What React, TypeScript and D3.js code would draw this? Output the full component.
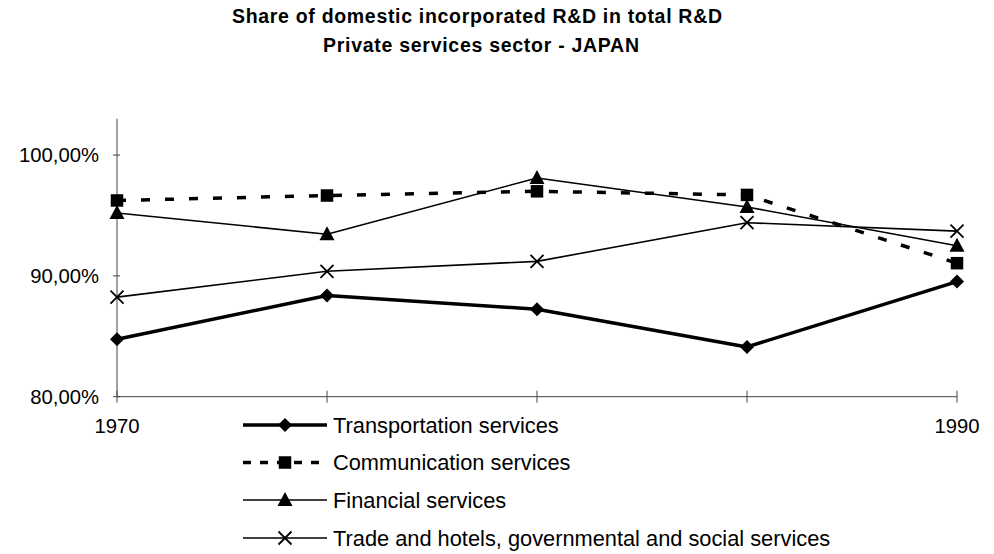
import React from "react";
import * as d3 from "d3";

const years = ["1970", "1975", "1980", "1985", "1990"];
const transportation = [84.76, 88.37, 87.24, 84.12, 89.53];
const communication = [96.24, 96.65, 97.0, 96.7, 91.05];
const financial = [95.2, 93.45, 98.1, 95.7, 92.5];
const tradeHotels = [88.24, 90.38, 91.2, 94.4, 93.7];
const yTicks = [80, 90, 100];
const xLabels = ["1970", "", "", "", "1990"];
const seriesNames = [
  "Transportation services",
  "Communication services",
  "Financial services",
  "Trade and hotels, governmental and social services",
];

const W = 994;
const H = 554;
const FONT = "'Liberation Sans', Arial, sans-serif";

type Marker = "diamond" | "square" | "triangle" | "cross";

const series: { name: string; values: number[]; width: number; dash?: string; legendDash?: string; marker: Marker }[] = [
  { name: seriesNames[0], values: transportation, width: 3.5, marker: "diamond" },
  { name: seriesNames[1], values: communication, width: 3.5, dash: "9,15", legendDash: "8,9", marker: "square" },
  { name: seriesNames[2], values: financial, width: 1.6, marker: "triangle" },
  { name: seriesNames[3], values: tradeHotels, width: 1.6, marker: "cross" },
];

function MarkerShape({ kind, x, y }: { kind: Marker; x: number; y: number }) {
  if (kind === "diamond") {
    const r = 7;
    return <path d={`M${x},${y - r}L${x + r},${y}L${x},${y + r}L${x - r},${y}Z`} fill="#000" />;
  }
  if (kind === "square") {
    const s = 12.5;
    return <rect x={x - s / 2} y={y - s / 2} width={s} height={s} fill="#000" />;
  }
  if (kind === "triangle") {
    return <path d={`M${x},${y - 8}L${x + 7.5},${y + 6}L${x - 7.5},${y + 6}Z`} fill="#000" />;
  }
  const r = 6.5;
  return (
    <path
      d={`M${x - r},${y - r}L${x + r},${y + r}M${x - r},${y + r}L${x + r},${y - r}`}
      stroke="#000"
      strokeWidth={1.8}
      fill="none"
    />
  );
}

export default function App() {
  const x = d3.scalePoint<string>().domain(years).range([117, 957]);
  const y = d3.scaleLinear().domain([80, 103]).range([396.7, 118.8]);
  const line = d3
    .line<number>()
    .x((_, i) => x(years[i]) as number)
    .y((d) => y(d));

  const axisColor = "#444";
  const legendRows = [425, 462.5, 500, 538];

  return (
    <svg
      width={W}
      height={H}
      viewBox={`0 0 ${W} ${H}`}
      style={{ position: "absolute", left: 0, top: 0, display: "block", background: "#fff" }}
      fontFamily={FONT}
    >
      <rect width={W} height={H} fill="#fff" />
      {/* title */}
      <text x={477} y={23} textAnchor="middle" fontSize={19.5} fontWeight="bold" textLength={490} lengthAdjust="spacing">
        Share of domestic incorporated R&amp;D in total R&amp;D
      </text>
      <text x={481} y={52} textAnchor="middle" fontSize={19.5} fontWeight="bold" textLength={316} lengthAdjust="spacing">
        Private services sector - JAPAN
      </text>

      {/* y axis */}
      <line x1={117} x2={117} y1={y(103)} y2={y(80)} stroke={axisColor} strokeWidth={1} />
      {yTicks.map((t) => (
        <g key={t}>
          <line x1={113} x2={120} y1={y(t)} y2={y(t)} stroke={axisColor} strokeWidth={1} />
          <text x={99} y={y(t)} dy="0.36em" textAnchor="end" fontSize={20.3}>
            {d3.format(".2f")(t).replace(".", ",") + "%"}
          </text>
        </g>
      ))}

      {/* x axis */}
      <line x1={117} x2={957} y1={y(80)} y2={y(80)} stroke={axisColor} strokeWidth={1} />
      {years.map((yr, i) => (
        <g key={yr}>
          <line x1={x(yr)} x2={x(yr)} y1={y(80) - 6} y2={y(80) + 6} stroke={axisColor} strokeWidth={1} />
          {xLabels[i] && (
            <text x={x(yr)} y={433} textAnchor="middle" fontSize={20.3}>
              {xLabels[i]}
            </text>
          )}
        </g>
      ))}

      {/* series lines */}
      {series.map((s) => (
        <path
          key={s.name}
          d={line(s.values) || ""}
          fill="none"
          stroke="#000"
          strokeWidth={s.width}
          strokeDasharray={s.dash}
          strokeLinejoin="round"
        />
      ))}
      {series.map((s) =>
        s.values.map((v, i) => <MarkerShape key={s.name + i} kind={s.marker} x={x(years[i]) as number} y={y(v)} />)
      )}

      {/* legend */}
      {series.map((s, i) => (
        <g key={"lg" + s.name}>
          <line
            x1={243}
            x2={327}
            y1={legendRows[i]}
            y2={legendRows[i]}
            stroke="#000"
            strokeWidth={s.width}
            strokeDasharray={s.legendDash}
          />
          <MarkerShape kind={s.marker} x={285} y={legendRows[i]} />
          <text x={333} y={legendRows[i]} dy="0.36em" fontSize={21.8}>
            {s.name}
          </text>
        </g>
      ))}
    </svg>
  );
}
